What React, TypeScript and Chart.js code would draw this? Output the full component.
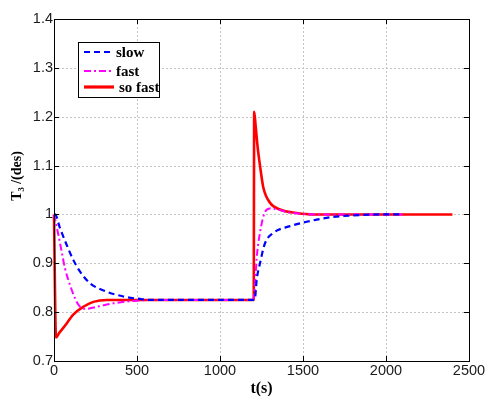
import { useEffect, useRef } from 'react';
import { Chart, registerables } from 'chart.js';

Chart.register(...registerables);

// ---- data ----
const slowT = [0, 6, 36, 76, 116, 157, 217, 317, 418, 518, 578, 700, 1000, 1200, 1211, 1221, 1241, 1271, 1321, 1422, 1522, 1663, 1800, 2000, 2100];
const slowV = [1.0, 1.0, 0.972, 0.938, 0.907, 0.883, 0.859, 0.842, 0.832, 0.827, 0.825, 0.825, 0.825, 0.825, 0.829, 0.866, 0.9, 0.941, 0.962, 0.976, 0.985, 0.994, 0.998, 1.0, 1.0];

const fastT = [0, 26, 46, 66, 96, 127, 157, 197, 257, 357, 478, 600, 1000, 1200, 1210, 1221, 1241, 1271, 1301, 1350, 1400, 1500, 1600, 2100];
const fastV = [1.0, 0.959, 0.924, 0.89, 0.856, 0.828, 0.811, 0.807, 0.811, 0.818, 0.823, 0.825, 0.825, 0.825, 0.85, 0.91, 0.963, 1.005, 1.012, 1.01, 1.005, 1.001, 1.0, 1.0];

const soFastT = [0, 12, 30, 66, 116, 177, 237, 317, 500, 1000, 1203, 1206, 1215, 1226, 1241, 1261, 1301, 1361, 1462, 1562, 2000, 2400];
const soFastV = [1.0, 0.748, 0.757, 0.772, 0.795, 0.811, 0.821, 0.825, 0.825, 0.825, 0.825, 1.21, 1.18, 1.14, 1.1, 1.055, 1.024, 1.01, 1.003, 1.0, 1.0, 1.0];

const seriesLabels = ['slow', 'fast', 'so fast'];
const xTicks = [0, 500, 1000, 1500, 2000, 2500];
const yTicks = [0.7, 0.8, 0.9, 1.0, 1.1, 1.2, 1.3, 1.4];
const xTitle = 't(s)';
const yTitle = 'T\u2083 /(des)';

const toPts = (t: number[], v: number[]) => t.map((x, i) => ({ x, y: v[i] }));

const gridPlugin = {
  id: 'dottedGrid',
  beforeDatasetsDraw(chart: any) {
    const { ctx, chartArea: a } = chart;
    const xs = chart.scales.x;
    const ys = chart.scales.y;
    ctx.save();
    ctx.strokeStyle = '#c4c4c4';
    ctx.lineWidth = 1;
    ctx.setLineDash([2, 2]);
    ctx.beginPath();
    xTicks.slice(1, -1).forEach((v) => {
      const px = Math.round(xs.getPixelForValue(v)) + 0.5;
      ctx.moveTo(px, a.top);
      ctx.lineTo(px, a.bottom);
    });
    yTicks.slice(1, -1).forEach((v) => {
      const py = Math.round(ys.getPixelForValue(v)) + 0.5;
      ctx.moveTo(a.left, py);
      ctx.lineTo(a.right, py);
    });
    ctx.stroke();
    ctx.restore();
  },
};

const framePlugin = {
  id: 'frameAndLegend',
  afterDraw(chart: any) {
    const { ctx, chartArea: a } = chart;
    const xs = chart.scales.x;
    const ys = chart.scales.y;
    ctx.save();
    ctx.strokeStyle = '#000';
    ctx.lineWidth = 1;
    ctx.setLineDash([]);
    ctx.strokeRect(a.left + 0.5, a.top + 0.5, a.right - a.left, a.bottom - a.top);
    ctx.beginPath();
    xTicks.forEach((v) => {
      const px = Math.round(xs.getPixelForValue(v)) + 0.5;
      ctx.moveTo(px, a.bottom);
      ctx.lineTo(px, a.bottom - 5);
      ctx.moveTo(px, a.top);
      ctx.lineTo(px, a.top + 5);
    });
    yTicks.forEach((v) => {
      const py = Math.round(ys.getPixelForValue(v)) + 0.5;
      ctx.moveTo(a.left, py);
      ctx.lineTo(a.left + 5, py);
      ctx.moveTo(a.right, py);
      ctx.lineTo(a.right - 5, py);
    });
    ctx.stroke();

    // y title
    ctx.save();
    ctx.translate(17, 176);
    ctx.rotate(-Math.PI / 2);
    ctx.fillStyle = '#000';
    ctx.font = 'bold 14px "Liberation Serif", "Times New Roman", serif';
    ctx.textAlign = 'center';
    ctx.textBaseline = 'middle';
    ctx.fillText(yTitle, 0, 0);
    ctx.restore();

    // legend box
    const bx = 78, by = 42, bw = 81, bh = 55;
    ctx.fillStyle = '#fff';
    ctx.fillRect(bx, by, bw, bh);
    ctx.strokeStyle = '#000';
    ctx.lineWidth = 1;
    ctx.strokeRect(bx + 0.5, by + 0.5, bw, bh);
    const rows = [52, 71, 87];
    const textX = [116, 116, 119];
    chart.data.datasets.forEach((ds: any, i: number) => {
      ctx.save();
      ctx.strokeStyle = ds.borderColor;
      ctx.lineWidth = i === 2 ? 3.2 : ds.borderWidth;
      ctx.setLineDash(ds.borderDash || []);
      ctx.beginPath();
      ctx.moveTo(84, rows[i]);
      ctx.lineTo(114, rows[i]);
      ctx.stroke();
      ctx.restore();
      ctx.fillStyle = '#000';
      ctx.font = 'bold 15px "Liberation Serif", "Times New Roman", serif';
      ctx.textAlign = 'left';
      ctx.textBaseline = 'middle';
      ctx.fillText(ds.label, textX[i], rows[i] + 1);
    });
    ctx.restore();
  },
};

export default function App() {
  const ref = useRef<HTMLCanvasElement | null>(null);
  useEffect(() => {
    if (!ref.current) return;
    const tickFont = { family: '"Liberation Sans", Arial, sans-serif', size: 14.5 };
    const chart = new Chart(ref.current, {
      type: 'line',
      data: {
        datasets: [
          {
            label: seriesLabels[0],
            data: toPts(slowT, slowV),
            borderColor: '#0000ff',
            borderWidth: 2.2,
            borderDash: [6, 4],
            pointRadius: 0,
            cubicInterpolationMode: 'monotone',
            fill: false,
            clip: false as any,
          },
          {
            label: seriesLabels[1],
            data: toPts(fastT, fastV),
            borderColor: '#ff00ff',
            borderWidth: 2,
            borderDash: [7, 3, 2, 3],
            pointRadius: 0,
            cubicInterpolationMode: 'monotone',
            fill: false,
            clip: false as any,
          },
          {
            label: seriesLabels[2],
            data: toPts(soFastT, soFastV),
            borderColor: '#ff0000',
            borderWidth: 2.6,
            pointRadius: 0,
            cubicInterpolationMode: 'monotone',
            fill: false,
            clip: false as any,
          },
        ],
      } as any,
      options: {
        responsive: false,
        animation: false,
        devicePixelRatio: 1,
        parsing: false as any,
        layout: { padding: { top: 19, right: 18, left: 0, bottom: 0 } },
        plugins: { legend: { display: false }, tooltip: { enabled: false } },
        scales: {
          x: {
            type: 'linear',
            min: 0,
            max: 2500,
            afterBuildTicks: (s: any) => {
              s.ticks = xTicks.map((v) => ({ value: v }));
            },
            afterFit: (s: any) => {
              s.height = 35;
            },
            grid: { display: false, drawTicks: false },
            border: { display: false },
            ticks: {
              padding: 1,
              color: '#1a1a1a',
              font: tickFont,
              maxRotation: 0,
              callback: (v: any) => String(v),
            },
            title: {
              display: true,
              text: xTitle,
              color: '#000',
              padding: { top: 0, bottom: 0 },
              font: { family: '"Liberation Serif", "Times New Roman", serif', weight: 'bold', size: 16, lineHeight: 0.85 },
            },
          },
          y: {
            type: 'linear',
            min: 0.7,
            max: 1.4,
            afterBuildTicks: (s: any) => {
              s.ticks = yTicks.map((v) => ({ value: v }));
            },
            afterFit: (s: any) => {
              s.width = 54;
            },
            grid: { display: false, drawTicks: false },
            border: { display: false },
            ticks: {
              padding: 1,
              color: '#1a1a1a',
              font: tickFont,
              callback: (v: any) => String(Math.round(Number(v) * 10) / 10),
            },
          },
        },
      } as any,
      plugins: [gridPlugin, framePlugin],
    });
    return () => chart.destroy();
  }, []);
  return (
    <div style={{ position: 'fixed', left: 0, top: 0, width: 487, height: 396, background: '#fff' }}>
      <canvas ref={ref} width={487} height={396} style={{ display: 'block', width: 487, height: 396 }} />
    </div>
  );
}
